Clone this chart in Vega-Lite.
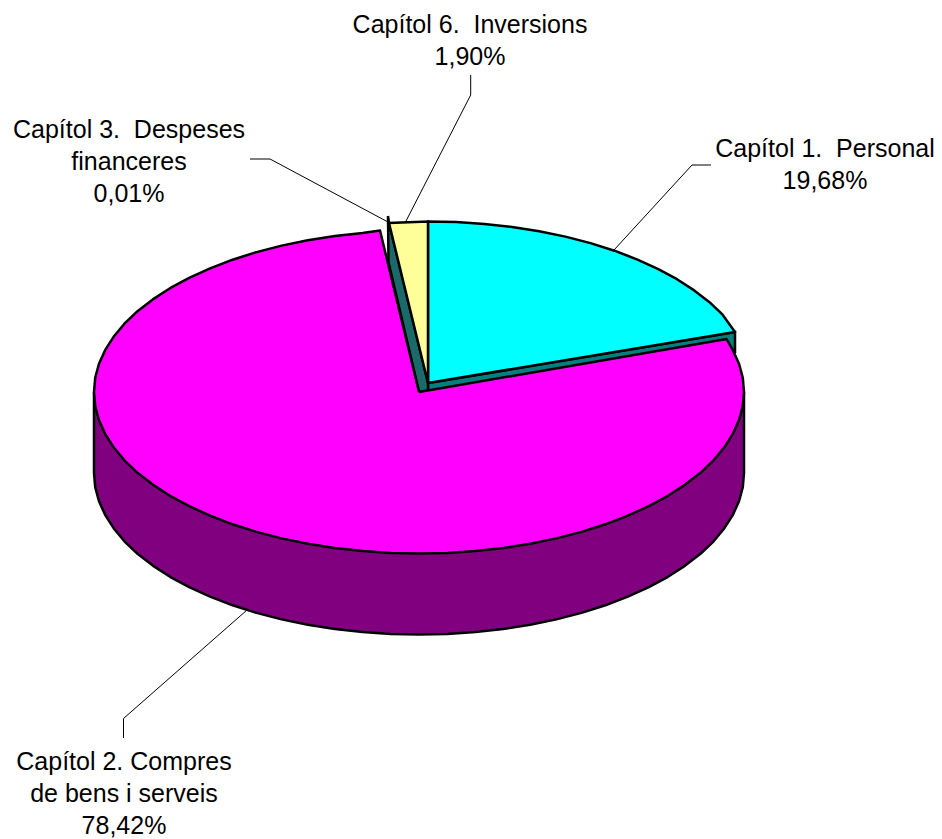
{"$schema":"https://vega.github.io/schema/vega-lite/v6.json","width":942,"height":839,"padding":0,"autosize":{"type":"fit","contains":"padding"},"background":"white","view":{"stroke":null},
"datasets":{
"side":[{"i":0,"x":94,"y":392},{"i":1,"x":94,"y":473},{"i":2,"x":95.2,"y":487.1},{"i":3,"x":98.9,"y":501},{"i":4,"x":105.1,"y":514.8},{"i":5,"x":113.6,"y":528.2},{"i":6,"x":124.4,"y":541.3},{"i":7,"x":137.5,"y":553.8},{"i":8,"x":152.8,"y":565.6},{"i":9,"x":170,"y":576.8},{"i":10,"x":189.2,"y":587.2},{"i":11,"x":210.1,"y":596.7},{"i":12,"x":232.6,"y":605.3},{"i":13,"x":256.5,"y":612.9},{"i":14,"x":281.6,"y":619.4},{"i":15,"x":307.8,"y":624.8},{"i":16,"x":334.9,"y":629},{"i":17,"x":362.6,"y":632},{"i":18,"x":390.7,"y":633.9},{"i":19,"x":419,"y":634.5},{"i":20,"x":447.3,"y":633.9},{"i":21,"x":475.4,"y":632},{"i":22,"x":503.1,"y":629},{"i":23,"x":530.2,"y":624.8},{"i":24,"x":556.4,"y":619.4},{"i":25,"x":581.5,"y":612.9},{"i":26,"x":605.4,"y":605.3},{"i":27,"x":627.9,"y":596.7},{"i":28,"x":648.8,"y":587.2},{"i":29,"x":668,"y":576.8},{"i":30,"x":685.2,"y":565.6},{"i":31,"x":700.5,"y":553.8},{"i":32,"x":713.6,"y":541.3},{"i":33,"x":724.4,"y":528.2},{"i":34,"x":732.9,"y":514.8},{"i":35,"x":739.1,"y":501},{"i":36,"x":742.8,"y":487.1},{"i":37,"x":744,"y":473},{"i":38,"x":744,"y":392},{"i":39,"x":94,"y":392}],
"tealRight":[{"i":0,"x":428,"y":383},{"i":1,"x":735,"y":332},{"i":2,"x":735,"y":352},{"i":3,"x":428,"y":400},{"i":4,"x":428,"y":383}],
"tealLeft":[{"i":0,"x":388,"y":216},{"i":1,"x":389,"y":223},{"i":2,"x":428,"y":383},{"i":3,"x":428,"y":392},{"i":4,"x":419,"y":392},{"i":5,"x":388.5,"y":262},{"i":6,"x":388,"y":216}],
"pink":[{"i":0,"x":419,"y":392},{"i":1,"x":380,"y":230.5},{"i":2,"x":362.6,"y":233},{"i":3,"x":334.9,"y":236},{"i":4,"x":307.8,"y":240.2},{"i":5,"x":281.6,"y":245.6},{"i":6,"x":256.5,"y":252.1},{"i":7,"x":232.6,"y":259.7},{"i":8,"x":210.1,"y":268.3},{"i":9,"x":189.2,"y":277.8},{"i":10,"x":170,"y":288.2},{"i":11,"x":152.8,"y":299.4},{"i":12,"x":137.5,"y":311.2},{"i":13,"x":124.4,"y":323.7},{"i":14,"x":113.6,"y":336.8},{"i":15,"x":105.1,"y":350.2},{"i":16,"x":98.9,"y":364},{"i":17,"x":95.2,"y":377.9},{"i":18,"x":94,"y":392},{"i":19,"x":95.2,"y":406.1},{"i":20,"x":98.9,"y":420},{"i":21,"x":105.1,"y":433.8},{"i":22,"x":113.6,"y":447.2},{"i":23,"x":124.4,"y":460.3},{"i":24,"x":137.5,"y":472.8},{"i":25,"x":152.8,"y":484.6},{"i":26,"x":170,"y":495.8},{"i":27,"x":189.2,"y":506.2},{"i":28,"x":210.1,"y":515.7},{"i":29,"x":232.6,"y":524.3},{"i":30,"x":256.5,"y":531.9},{"i":31,"x":281.6,"y":538.4},{"i":32,"x":307.8,"y":543.8},{"i":33,"x":334.9,"y":548},{"i":34,"x":362.6,"y":551},{"i":35,"x":390.7,"y":552.9},{"i":36,"x":419,"y":553.5},{"i":37,"x":447.3,"y":552.9},{"i":38,"x":475.4,"y":551},{"i":39,"x":503.1,"y":548},{"i":40,"x":530.2,"y":543.8},{"i":41,"x":556.4,"y":538.4},{"i":42,"x":581.5,"y":531.9},{"i":43,"x":605.4,"y":524.3},{"i":44,"x":627.9,"y":515.7},{"i":45,"x":648.8,"y":506.2},{"i":46,"x":668,"y":495.8},{"i":47,"x":685.2,"y":484.6},{"i":48,"x":700.5,"y":472.8},{"i":49,"x":713.6,"y":460.3},{"i":50,"x":724.4,"y":447.2},{"i":51,"x":732.9,"y":433.8},{"i":52,"x":739.1,"y":420},{"i":53,"x":742.8,"y":406.1},{"i":54,"x":744,"y":392},{"i":55,"x":742.8,"y":377.9},{"i":56,"x":739.1,"y":364},{"i":57,"x":732.9,"y":350.2},{"i":58,"x":726.5,"y":339},{"i":59,"x":419,"y":392}],
"cyan":[{"i":0,"x":428,"y":383},{"i":1,"x":428,"y":221.5},{"i":2,"x":456.3,"y":222.1},{"i":3,"x":484.4,"y":224},{"i":4,"x":512.1,"y":227},{"i":5,"x":539.2,"y":231.2},{"i":6,"x":565.4,"y":236.6},{"i":7,"x":590.5,"y":243.1},{"i":8,"x":614.4,"y":250.7},{"i":9,"x":636.9,"y":259.3},{"i":10,"x":657.8,"y":268.8},{"i":11,"x":677,"y":279.2},{"i":12,"x":694.2,"y":290.4},{"i":13,"x":709.5,"y":302.2},{"i":14,"x":722.6,"y":314.7},{"i":15,"x":735,"y":332},{"i":16,"x":428,"y":383}],
"yellow":[{"i":0,"x":428,"y":383},{"i":1,"x":428,"y":221.5},{"i":2,"x":389,"y":223},{"i":3,"x":428,"y":383}],
"leaders":[{"s":"c1","i":0,"x":711,"y":165},{"s":"c1","i":1,"x":692,"y":165},{"s":"c1","i":2,"x":614,"y":250},{"s":"c6","i":0,"x":470.7,"y":75},{"s":"c6","i":1,"x":470.7,"y":95},{"s":"c6","i":2,"x":405.5,"y":222},{"s":"c3","i":0,"x":250,"y":159},{"s":"c3","i":1,"x":270,"y":159},{"s":"c3","i":2,"x":388,"y":222},{"s":"c2","i":0,"x":123.5,"y":738},{"s":"c2","i":1,"x":123.5,"y":718.5},{"s":"c2","i":2,"x":247,"y":610}],
"labels":[{"t":"Capítol 6.\u00a0 Inversions","x":470,"y":33},{"t":"1,90%","x":470,"y":65},{"t":"Capítol 3.\u00a0 Despeses","x":129,"y":138},{"t":"financeres","x":129,"y":170},{"t":"0,01%","x":129,"y":202},{"t":"Capítol 1.\u00a0 Personal","x":825,"y":157},{"t":"19,68%","x":825,"y":189},{"t":"Capítol 2. Compres","x":124,"y":770},{"t":"de bens i serveis","x":124,"y":802},{"t":"78,42%","x":124,"y":834}]
},
"encoding":{
"x":{"field":"x","type":"quantitative","axis":null,"scale":{"domain":[0,942],"nice":false,"zero":false}},
"y":{"field":"y","type":"quantitative","axis":null,"scale":{"domain":[839,0],"nice":false,"zero":false}}
},
"layer":[
{"data":{"name":"side"},"mark":{"type":"line","fill":"#800080","stroke":"black","strokeWidth":2.5,"strokeJoin":"round"},"encoding":{"order":{"field":"i"}}},
{"data":{"name":"tealRight"},"mark":{"type":"line","fill":"#008080","stroke":"black","strokeWidth":2.5},"encoding":{"order":{"field":"i"}}},
{"data":{"name":"tealLeft"},"mark":{"type":"line","fill":"#1a6a6a","stroke":"black","strokeWidth":2.5},"encoding":{"order":{"field":"i"}}},
{"data":{"name":"pink"},"mark":{"type":"line","fill":"#ff00ff","stroke":"black","strokeWidth":2.5,"strokeJoin":"round"},"encoding":{"order":{"field":"i"}}},
{"data":{"name":"cyan"},"mark":{"type":"line","fill":"#00ffff","stroke":"black","strokeWidth":2.5,"strokeJoin":"round"},"encoding":{"order":{"field":"i"}}},
{"data":{"name":"yellow"},"mark":{"type":"line","fill":"#ffff99","stroke":"black","strokeWidth":2.5},"encoding":{"order":{"field":"i"}}},
{"data":{"name":"leaders"},"mark":{"type":"line","stroke":"black","strokeWidth":1},"encoding":{"order":{"field":"i"},"detail":{"field":"s"}}},
{"data":{"name":"labels"},"mark":{"type":"text","font":"Liberation Sans","fontSize":25,"align":"center","baseline":"alphabetic","fill":"black"},"encoding":{"text":{"field":"t"}}}
]}
